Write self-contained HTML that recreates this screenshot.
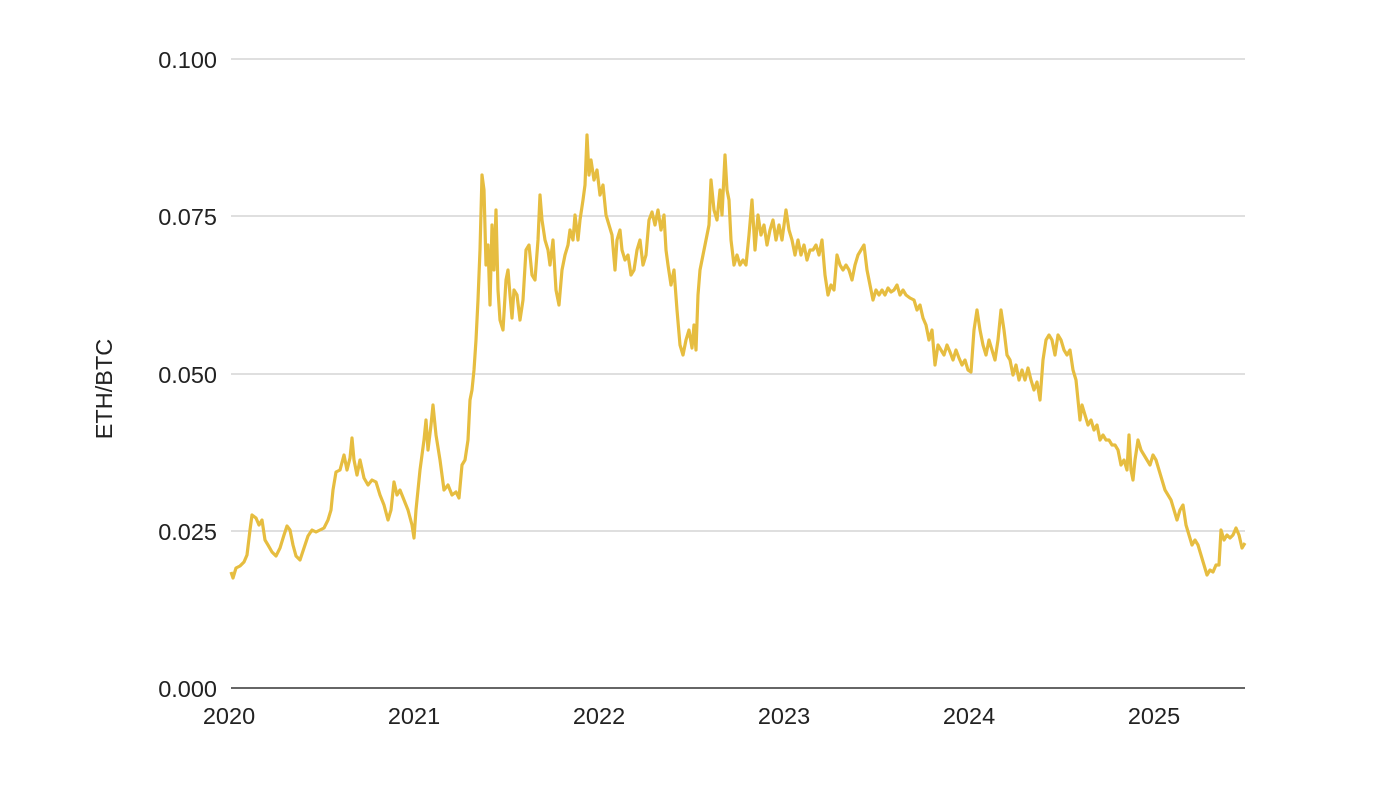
<!DOCTYPE html>
<html><head><meta charset="utf-8"><style>
html,body{margin:0;padding:0;background:#fff;}
svg{display:block;font-family:"Liberation Sans",Arial,sans-serif;}
</style></head><body>
<svg width="1390" height="785" viewBox="0 0 1390 785">
<g stroke="#cccccc" stroke-width="1.3">
<line x1="231" y1="59" x2="1245" y2="59"/>
<line x1="231" y1="216" x2="1245" y2="216"/>
<line x1="231" y1="374" x2="1245" y2="374"/>
<line x1="231" y1="531" x2="1245" y2="531"/>
</g>
<line x1="231" y1="688" x2="1245" y2="688" stroke="#333" stroke-width="1.5"/>
<g font-size="23.5" fill="#222" text-anchor="end">
<text x="217" y="68">0.100</text>
<text x="217" y="225">0.075</text>
<text x="217" y="383">0.050</text>
<text x="217" y="540">0.025</text>
<text x="217" y="697">0.000</text>
</g>
<g font-size="23.5" fill="#222" text-anchor="middle">
<text x="229" y="724">2020</text>
<text x="414" y="724">2021</text>
<text x="599" y="724">2022</text>
<text x="784" y="724">2023</text>
<text x="969" y="724">2024</text>
<text x="1154" y="724">2025</text>
</g>
<text transform="translate(112,389) rotate(-90)" font-size="23.5" fill="#222" text-anchor="middle">ETH/BTC</text>
<polyline fill="none" stroke="#e6bd40" stroke-width="3.2" stroke-linejoin="round" points="231,572 233,578 236,568 240,566 244,562 247,555 250,530 252,515 256,518 259,525 262,520 265,540 268,545 272,552 276,556 280,548 284,535 287,526 290,530 293,545 296,556 300,560 304,548 308,536 312,530 316,532 320,530 324,528 328,520 331,510 333,490 336,472 340,470 344,455 347,470 350,458 352,438 354,460 357,475 360,460 364,478 368,485 372,480 376,482 380,495 384,505 388,520 391,510 394,482 397,495 400,490 404,500 408,510 412,525 414,538 416,510 420,470 424,440 426,420 428,450 431,425 433,405 436,435 440,460 444,490 448,485 452,495 456,492 459,498 462,465 465,460 468,440 470,400 472,390 474,370 476,340 478,300 480,250 482,175 484,190 486,265 488,245 490,305 492,225 494,270 496,210 498,290 500,320 503,330 506,280 508,270 510,295 512,318 514,290 517,295 520,320 523,300 526,250 529,245 532,275 535,280 538,240 540,195 542,220 545,240 548,250 550,265 553,240 556,290 559,305 562,270 565,255 568,245 570,230 573,240 575,215 578,240 580,220 583,200 585,185 587,135 589,175 591,160 594,180 597,170 600,195 603,185 606,215 609,225 612,235 615,270 617,240 620,230 622,250 625,260 628,255 631,275 634,270 637,250 640,240 643,265 646,255 649,220 652,212 655,225 658,210 661,230 664,215 666,250 668,265 671,285 674,270 677,310 680,345 683,355 686,340 689,330 692,348 694,325 696,350 698,295 700,270 703,255 706,240 709,225 711,180 714,210 717,220 720,190 722,215 725,155 727,190 729,200 731,240 734,265 737,255 740,265 743,260 746,265 749,235 752,200 755,250 758,215 761,235 764,225 767,245 770,230 773,220 776,240 779,225 782,240 786,210 789,230 792,240 795,255 798,240 801,255 804,245 807,260 810,250 813,250 816,245 819,255 822,240 825,275 828,295 831,285 834,290 837,255 840,265 843,270 846,265 849,270 852,280 855,265 858,255 861,250 864,245 867,270 870,285 873,300 876,290 879,295 882,290 885,295 888,288 891,292 894,290 897,285 900,295 903,290 906,295 910,298 914,300 917,310 920,305 923,318 926,325 929,340 932,330 935,365 938,345 941,350 944,355 947,345 950,352 953,360 956,350 959,358 962,365 965,360 968,370 971,372 974,330 977,310 980,330 983,345 986,355 989,340 992,350 995,360 998,340 1001,310 1004,330 1007,355 1010,360 1013,375 1016,365 1019,380 1022,370 1025,380 1028,368 1031,380 1034,390 1037,382 1040,400 1043,360 1046,340 1049,335 1052,340 1055,355 1058,335 1061,340 1064,350 1067,355 1070,350 1073,370 1076,380 1078,400 1080,420 1082,405 1085,415 1088,425 1091,420 1094,430 1097,425 1100,440 1103,435 1106,440 1109,440 1112,445 1115,445 1118,450 1121,465 1124,460 1127,470 1129,435 1131,470 1133,480 1135,460 1138,440 1141,450 1144,455 1147,460 1150,465 1153,455 1156,460 1159,470 1162,480 1165,490 1168,495 1171,500 1174,510 1177,520 1180,510 1183,505 1186,525 1189,535 1192,545 1195,540 1198,545 1201,555 1204,565 1207,575 1210,570 1213,572 1216,565 1219,565 1221,530 1224,540 1227,535 1230,538 1233,535 1236,528 1239,535 1242,548 1245,543"/>
</svg>
</body></html>
